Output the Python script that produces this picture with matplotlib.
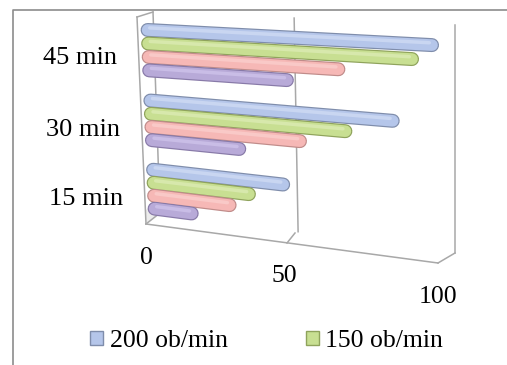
import numpy as np
import matplotlib
matplotlib.use("Agg")
import matplotlib.pyplot as plt
import matplotlib.transforms as mtransforms
from matplotlib.patches import Patch

categories = ["15 min", "30 min", "45 min"]
series_labels = ["200 ob/min", "150 ob/min", "100 ob/min", "50 ob/min"]
values_200 = [47, 83, 95]
values_150 = [35, 68, 89]
values_100 = [28, 53, 66]
values_50 = [14, 32, 49]
ticks = [0, 50, 100]

series = [values_200, values_150, values_100, values_50]
fills = ["#b5c6ea", "#c8df92", "#f6b8b6", "#b8aad8"]
edges = ["#7f8dab", "#8fa35c", "#c08c8a", "#887aa8"]
lights = ["#c9d6f1", "#d7e8ac", "#f9c9c7", "#c9bde6"]
offsets = [0.285, 0.095, -0.095, -0.285]

W, H = 507, 365
c0, c1 = -0.431, 2.502   # category range mapped onto the wall height


def homography(dst):
    src = [(0, 0), (1, 0), (0, 1), (1, 1)]
    A, b = [], []
    for (x, y), (X, Y) in zip(src, dst):
        A.append([x, y, 1, 0, 0, 0, -X * x, -X * y]); b.append(X)
        A.append([0, 0, 0, x, y, 1, -Y * x, -Y * y]); b.append(Y)
    h = np.linalg.solve(np.array(A, float), np.array(b, float))
    return np.append(h, 1).reshape(3, 3)


class Persp(mtransforms.Transform):
    input_dims = output_dims = 2

    def __init__(self, M):
        super().__init__()
        self.M = M

    def transform_non_affine(self, xy):
        xy = np.asarray(xy, float)
        u = xy[:, 0] / 100.0
        h = (xy[:, 1] - c0) / (c1 - c0)
        p = np.column_stack([u, h, np.ones(len(u))]) @ self.M.T
        return p[:, :2] / p[:, 2:3]


# corners (value 0/100, bottom/top) in pixels
back = [(160, 213), (455, 253), (153, 12), (455, 25)]
front = [(146, 224), (438, 263), (137, 17), (439, 32)]
mid = [((a[0] + b[0]) / 2 + 2, (a[1] + b[1]) / 2) for a, b in zip(back, front)]

fig = plt.figure(figsize=(W / 100, H / 100), dpi=100)
ax = fig.add_axes([0, 0, 1, 1])
ax.set_xlim(0, W)
ax.set_ylim(H, 0)
ax.axis("off")

tb = Persp(homography(back)) + ax.transData
tf = Persp(homography(front)) + ax.transData
tm = Persp(homography(mid)) + ax.transData

grid = "#a8a8a8"
# outer border of the (cropped) chart area
ax.plot([13, 13, W], [H, 10, 10], color="#8c8c8c", lw=1.2)

# left side wall
ax.plot([0, 0], [c0, c1], color=grid, lw=1.1, transform=tb)
ax.plot([0, 0], [c0, c1], color=grid, lw=1.1, transform=tf)
ax.plot([137, 153], [17, 12], color=grid, lw=1.1)
ax.plot([146, 160], [224, 213], color=grid, lw=1.1)
ax.fill([146, 160, 158, 146], [224, 213, 200, 210], color="#ececec", lw=0)
# gridlines on the back wall and floor
for t in ticks[1:]:
    ax.plot([t, t], [c0, c1], color=grid, lw=1.1, transform=tb)
ax.plot([0, 100], [c0, c0], color=grid, lw=1.1, transform=tf)
ax.plot([295, 287], [233, 243], color=grid, lw=1.1)
ax.plot([455, 438], [253, 263], color=grid, lw=1.1)

px = 0.72  # points per pixel
hi = mtransforms.ScaledTranslation(0, 2.2 / 100, fig.dpi_scale_trans)
for vals, off, fc, ec, lc in zip(series, offsets, fills, edges, lights):
    for i, v in enumerate(vals):
        y = i + off
        ax.plot([0, v], [y, y], color=ec, lw=14 * px, solid_capstyle="round",
                transform=tm, zorder=3)
        ax.plot([0, v], [y, y], color=fc, lw=11.6 * px, solid_capstyle="round",
                transform=tm, zorder=4)
        ax.plot([0.8, v - 0.8], [y, y], color=lc, lw=3.5 * px,
                solid_capstyle="round", transform=tm + hi, zorder=5)

font = "Liberation Serif"
for t in ticks:
    ax.annotate(str(t), (t, c0), xycoords=tf, xytext=(0, -34),
                textcoords="offset pixels", ha="center", va="center",
                fontsize=18.5, family=font)
for i, cat in enumerate(categories):
    ax.annotate(cat, (0, i), xycoords=tf, xytext=(-22, -5),
                textcoords="offset pixels", ha="right", va="center",
                fontsize=19, family=font)

handles = [Patch(facecolor=fills[k], edgecolor=edges[k], label=series_labels[k])
           for k in range(2)]
fig.legend(handles=handles, loc="center left", bbox_to_anchor=(80 / W, 1 - 341 / H),
           ncol=2, frameon=False, prop={"family": font, "size": 18.5},
           handlelength=0.5, handleheight=0.5, handletextpad=0.25,
           columnspacing=3.05, borderaxespad=0)

fig.savefig("out.png", dpi=100)
